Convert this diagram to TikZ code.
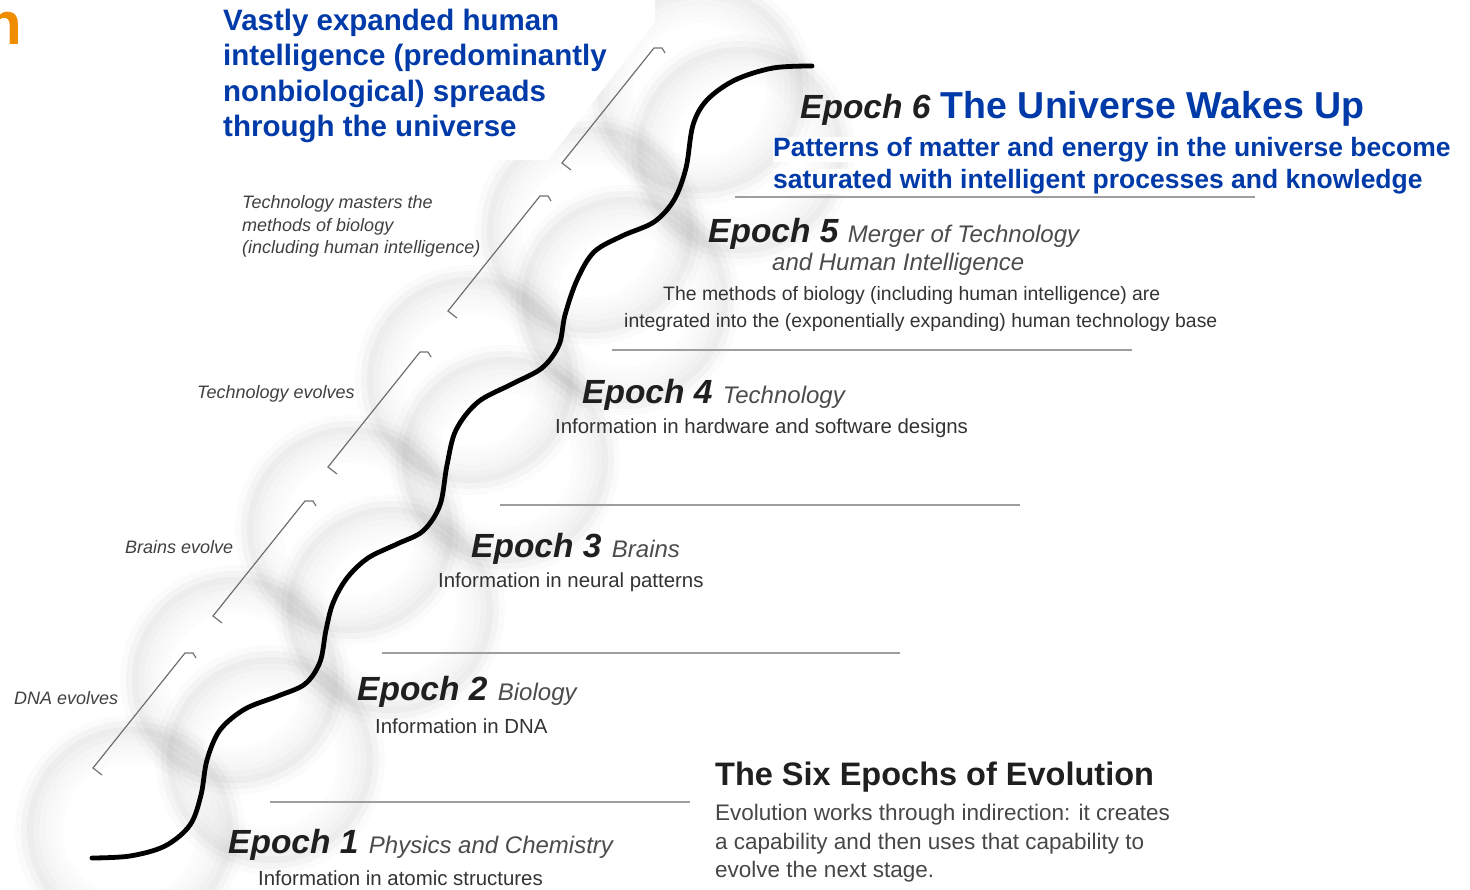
\documentclass[tikz,border=0pt]{standalone}
\usepackage{fontspec}
\setmainfont{Liberation Sans}
\usetikzlibrary{positioning}

\definecolor{epochblue}{RGB}{0,58,168}
\definecolor{titleorange}{RGB}{240,140,0}

\begin{document}
\begin{tikzpicture}[x=1pt,y=-1pt,
	head/.style={anchor=base west,inner sep=0pt,text=black!88,font=\fontsize{33.5}{33.5}\selectfont\bfseries\itshape},
	sub/.style={anchor=base west,inner sep=0pt,text=black!70,font=\fontsize{24}{24}\selectfont\itshape},
	info/.style={anchor=base west,inner sep=0pt,text=black!80,font=\fontsize{20.4}{20.4}\selectfont},
	side/.style={anchor=base west,inner sep=0pt,text=black!75,font=\fontsize{18}{18}\selectfont\itshape},
	bluenote/.style={anchor=base west,inner sep=0pt,text=epochblue,font=\fontsize{29.5}{29.5}\selectfont\bfseries},
	rule/.style={draw=black!38,line width=2.4pt},
	bracket/.style={draw=black!55,line width=1.2pt}]
	\useasboundingbox (0,0) rectangle (1470,889);
	\fill[white] (0,0) rectangle (1470,889);
	
	%bubbles
	\foreach \cx/\cy in {130/830,235/680,350/530,470/380,590/230,700/90,
		270/760,390/610,505/460,625/300,740/150}{
		\foreach \d/\o in {-30/0.01,-24/0.018,-18/0.028,-12/0.04,-6/0.055,0/0.07,6/0.045,12/0.016}
			\draw[black,opacity=\o,line width=6pt] (\cx,\cy) circle[radius=100+\d];
	}
	\fill[white] (0,0) -- (655,0) -- (655,22) -- (548,160) -- (0,160) -- cycle;
	
	%brackets
	\foreach \bx/\by in {93/768,213/616,328/467,448/311,562/163}
		\draw[bracket] (\bx+9,\by+7) -- (\bx,\by) -- ++(92,-115) -- ++(8,0) -- ++(3,5);
	
	%rules between epochs
	\draw[rule] (735,197) -- (1255,197);
	\draw[rule] (612,350) -- (1132,350);
	\draw[rule] (500,505) -- (1020,505);
	\draw[rule] (382,653) -- (900,653);
	\draw[rule] (270,802) -- (690,802);
	
	%the curve
	\draw[line width=4.8pt,line cap=round] plot[smooth,tension=0.55] coordinates {
		(92,858) (130,856) (165,846) (190,825) (201,795) (207,760) (220,730)
		(245,709) (278,696) (305,684) (320,662) (326,630) (333,603) (347,578)
		(368,558) (397,544) (423,531) (440,505) (447,465) (456,430) (478,402)
		(512,384) (542,368) (559,345) (565,315) (577,280) (594,252) (622,236)
		(654,222) (674,200) (686,168) (693,125) (707,100) (735,80) (773,68) (812,66)};
	
	%top left
	\node[anchor=base east,inner sep=0pt,text=titleorange,font=\fontsize{60}{60}\selectfont\bfseries] (cut) at (22,44) {n};
	\node[bluenote] (spread1) at (223,30) {Vastly expanded human};
	\node[bluenote] (spread2) at (223,65) {intelligence (predominantly};
	\node[bluenote] (spread3) at (223,101) {nonbiological) spreads};
	\node[bluenote] (spread4) at (223,136) {through the universe};
	
	%epoch 6
	\node[head] (e6) at (800,118) {Epoch 6};
	\node[bluenote,font=\fontsize{37.5}{37.5}\selectfont\bfseries] (e6t) at ([xshift=10pt]e6.base east) {The Universe Wakes Up};
	\node[bluenote,fill=white,font=\fontsize{26.5}{26.5}\selectfont\bfseries] (e6a) at (773,156) {Patterns of matter and energy in the universe become};
	\node[bluenote,fill=white,font=\fontsize{26.5}{26.5}\selectfont\bfseries] (e6b) at (773,188) {saturated with intelligent processes and knowledge};
	
	%epoch 5
	\node[head] (e5) at (708,242) {Epoch 5};
	\node[sub] (e5t) at ([xshift=9pt]e5.base east) {Merger of Technology};
	\node[sub] (e5u) at (772,270) {and Human Intelligence};
	\node[info,font=\fontsize{19.4}{19.4}\selectfont] (e5a) at (663,300) {The methods of biology (including human intelligence) are};
	\node[info,font=\fontsize{19.4}{19.4}\selectfont] (e5b) at (624,327) {integrated into the (exponentially expanding) human technology base};
	
	%epoch 4
	\node[head] (e4) at (582,403) {Epoch 4};
	\node[sub] (e4t) at ([xshift=10pt]e4.base east) {Technology};
	\node[info] (e4a) at (555,433) {Information in hardware and software designs};
	
	%epoch 3
	\node[head] (e3) at (471,557) {Epoch 3};
	\node[sub] (e3t) at ([xshift=10pt]e3.base east) {Brains};
	\node[info] (e3a) at (438,587) {Information in neural patterns};
	
	%epoch 2
	\node[head] (e2) at (357,700) {Epoch 2};
	\node[sub] (e2t) at ([xshift=10pt]e2.base east) {Biology};
	\node[info] (e2a) at (375,733) {Information in DNA};
	
	%epoch 1
	\node[head] (e1) at (228,853) {Epoch 1};
	\node[sub] (e1t) at ([xshift=10pt]e1.base east) {Physics and Chemistry};
	\node[info] (e1a) at (258,885) {Information in atomic structures};
	
	%side notes
	\node[side] (dna) at (14,704) {DNA evolves};
	\node[side] (brains) at (125,553) {Brains evolve};
	\node[side] (tech) at (197,398) {Technology evolves};
	\node[side] (bio1) at (242,208) {Technology masters the};
	\node[side] (bio2) at (242,231) {methods of biology};
	\node[side] (bio3) at (242,253) {(including human intelligence)};
	
	%six epochs
	\node[anchor=base west,inner sep=0pt,text=black!88,font=\fontsize{32.5}{32.5}\selectfont\bfseries] (six) at (715,785) {The Six Epochs of Evolution};
	\node[info,font=\fontsize{22.5}{22.5}\selectfont,text=black!72] (six1) at (715,820) {Evolution works through indirection: it creates};
	\node[info,font=\fontsize{22.5}{22.5}\selectfont,text=black!72] (six2) at (715,849) {a capability and then uses that capability to};
	\node[info,font=\fontsize{22.5}{22.5}\selectfont,text=black!72] (six3) at (715,877) {evolve the next stage.};
\end{tikzpicture}
\end{document}
